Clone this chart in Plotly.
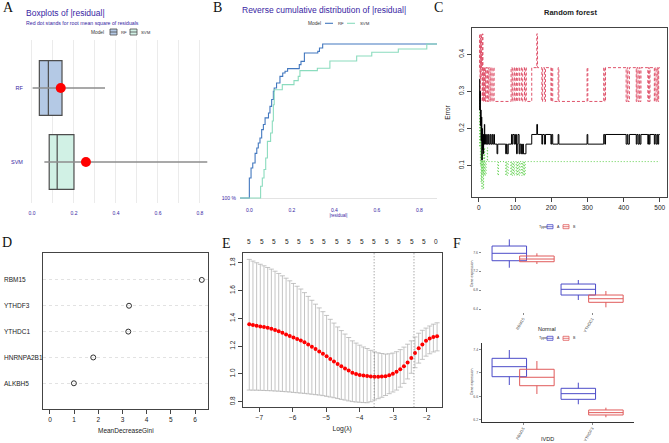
import plotly.graph_objects as go

W, H = 669, 443
def px(x): return x / W
def py(y): return 1 - y / H
def dx(a, b): return [px(a), px(b)]
def dy(top, bottom): return [py(bottom), py(top)]

DRW = "#371ea3"
SANS = "Liberation Sans, Arial, sans-serif"
SERIF = "Liberation Serif, Times New Roman, serif"
INK = "#222222"

# ---------------- Panel A: boxplots of |residual| ----------------
a_models = ["RF", "SVM"]
a_pos = [1, 0]
a_q1 = [0.035, 0.082]
a_median = [0.078, 0.120]
a_q3 = [0.143, 0.200]
a_whisk_lo = [0.003, 0.059]
a_whisk_hi = [0.348, 0.835]
a_rmse = [0.137, 0.257]
a_fill = ["#b4c9e5", "#d1f1e5"]

# ---------------- Panel B: reverse cumulative distribution ----------------
b_rf_x = [-0.044, 0.000, 0.008, 0.016, 0.027, 0.035, 0.042, 0.050, 0.058, 0.066, 0.074,
          0.090, 0.097, 0.105, 0.113, 0.117, 0.128, 0.144, 0.157, 0.168, 0.180, 0.235,
          0.243, 0.259, 0.322, 0.330, 0.345, 0.883]
b_rf_y = [1.0, 0.87, 0.805, 0.773, 0.71, 0.675, 0.643, 0.61, 0.556, 0.523, 0.48,
          0.448, 0.405, 0.36, 0.307, 0.286, 0.253, 0.21, 0.188, 0.177, 0.16, 0.134,
          0.113, 0.058, 0.048, 0.026, 0.0, 0.0]
b_svm_x = [-0.044, 0.053, 0.061, 0.069, 0.077, 0.085, 0.100, 0.108, 0.113, 0.117, 0.155,
           0.210, 0.230, 0.238, 0.320, 0.379, 0.505, 0.576, 0.701, 0.835, 0.883]
b_svm_y = [1.0, 0.924, 0.87, 0.815, 0.74, 0.632, 0.578, 0.5, 0.394, 0.297, 0.264,
           0.238, 0.21, 0.173, 0.157, 0.11, 0.078, 0.054, 0.032, 0.0, 0.0]
b_models = ["RF", "SVM"]
b_colors = ["#4378bf", "#8bdcbe"]

# ---------------- Panel C: random forest error vs trees ----------------
c_oob_trees = [1, 2, 3, 4, 5, 6, 7, 8, 9, 10, 11, 12, 13, 14, 15, 16, 18, 20, 22, 23, 26, 28,
               31, 33, 36, 38, 41, 43, 50, 52, 74, 76, 78, 81, 90, 92, 94, 98, 101, 104, 106,
               108, 111, 113, 116, 118, 120, 122, 123, 130, 146, 160, 162, 174, 176, 181, 184,
               199, 201, 204, 219, 221, 299, 301, 345, 348, 350, 407, 410, 412, 416, 435, 437,
               440, 443, 445, 448, 467, 469, 471, 473, 485, 487, 490, 493, 495, 497, 500]
c_oob_err = [0.333, 0.25, 0.30, 0.208, 0.25, 0.167, 0.231, 0.115, 0.20, 0.143, 0.184, 0.132,
             0.184, 0.158, 0.211, 0.158, 0.184, 0.158, 0.184, 0.158, 0.184, 0.158, 0.184,
             0.158, 0.184, 0.158, 0.184, 0.158, 0.132, 0.158, 0.132, 0.158, 0.132, 0.158,
             0.184, 0.158, 0.184, 0.158, 0.184, 0.132, 0.158, 0.184, 0.132, 0.158, 0.132,
             0.158, 0.132, 0.158, 0.132, 0.158, 0.184, 0.211, 0.184, 0.158, 0.184, 0.158,
             0.184, 0.158, 0.184, 0.158, 0.184, 0.158, 0.184, 0.158, 0.184, 0.158, 0.184,
             0.158, 0.184, 0.158, 0.184, 0.158, 0.184, 0.158, 0.184, 0.158, 0.184, 0.158,
             0.184, 0.158, 0.184, 0.158, 0.184, 0.158, 0.184, 0.158, 0.184, 0.184]
c_b_trees = [1, 2, 3, 4, 5, 6, 7, 8, 9, 10, 11, 12, 13, 15, 16, 18, 19, 22, 24, 26, 28, 31, 33,
             36, 39, 42, 89, 92, 94, 98, 100, 104, 106, 111, 113, 118, 121, 126, 128, 131, 146,
             160, 162, 174, 176, 181, 184, 199, 201, 204, 219, 221, 299, 301, 345, 348, 350,
             407, 410, 412, 416, 435, 437, 440, 443, 445, 448, 467, 469, 471, 473, 485, 487,
             490, 493, 495, 497, 500]
c_b_err = [0.364, 0.455, 0.273, 0.444, 0.333, 0.455, 0.364, 0.40, 0.273, 0.455, 0.364, 0.273,
           0.364, 0.273, 0.364, 0.273, 0.364, 0.273, 0.364, 0.273, 0.364, 0.273, 0.364, 0.273,
           0.364, 0.273, 0.364, 0.273, 0.364, 0.273, 0.364, 0.273, 0.364, 0.273, 0.364, 0.273,
           0.364, 0.273, 0.364, 0.273, 0.364, 0.455, 0.364, 0.273, 0.364, 0.273, 0.364, 0.273,
           0.364, 0.273, 0.364, 0.273, 0.364, 0.273, 0.364, 0.273, 0.364, 0.273, 0.364, 0.273,
           0.364, 0.273, 0.364, 0.273, 0.364, 0.273, 0.364, 0.273, 0.364, 0.273, 0.364, 0.273,
           0.364, 0.273, 0.364, 0.273, 0.364, 0.364]
c_a_trees = [1, 2, 3, 4, 5, 6, 7, 8, 9, 10, 11, 12, 13, 14, 15, 16, 18, 20, 23, 24, 52, 54, 74,
             76, 78, 81, 88, 90, 92, 94, 96, 98, 103, 105, 107, 109, 112, 114, 118, 120, 122,
             124, 126, 128, 500]
c_a_err = [0.30, 0.15, 0.25, 0.10, 0.20, 0.056, 0.15, 0.037, 0.13, 0.08, 0.148, 0.037, 0.111,
           0.074, 0.148, 0.111, 0.074, 0.111, 0.148, 0.111, 0.074, 0.111, 0.074, 0.111, 0.074,
           0.111, 0.074, 0.111, 0.074, 0.111, 0.074, 0.111, 0.074, 0.111, 0.074, 0.111, 0.074,
           0.111, 0.074, 0.111, 0.074, 0.111, 0.074, 0.111, 0.111]

# ---------------- Panel D: variable importance ----------------
d_genes = ["RBM15", "YTHDF3", "YTHDC1", "HNRNPA2B1", "ALKBH5"]
d_pos = [5, 4, 3, 2, 1]
d_gini = [6.28, 3.27, 3.24, 1.79, 0.99]

# ---------------- Panel E: LASSO cross-validation ----------------
e_loglambda = [-7.30, -7.19, -7.08, -6.97, -6.86, -6.75, -6.64, -6.53, -6.42, -6.31, -6.20,
               -6.09, -5.98, -5.87, -5.76, -5.65, -5.54, -5.43, -5.32, -5.21, -5.10, -4.99,
               -4.88, -4.77, -4.66, -4.55, -4.44, -4.33, -4.22, -4.11, -4.00, -3.89, -3.78,
               -3.67, -3.56, -3.45, -3.34, -3.23, -3.12, -3.01, -2.90, -2.79, -2.68, -2.57,
               -2.46, -2.35, -2.24, -2.13, -2.02, -1.91, -1.80, -1.69]
e_mean = [1.357, 1.352, 1.347, 1.342, 1.337, 1.332, 1.326, 1.317, 1.307, 1.296, 1.284, 1.273,
          1.262, 1.252, 1.241, 1.228, 1.212, 1.195, 1.179, 1.162, 1.145, 1.127, 1.108, 1.090,
          1.071, 1.055, 1.040, 1.025, 1.008, 0.999, 0.993, 0.988, 0.985, 0.982, 0.980, 0.980,
          0.981, 0.984, 0.990, 1.001, 1.016, 1.034, 1.056, 1.082, 1.115, 1.150, 1.184, 1.212,
          1.238, 1.255, 1.266, 1.272]
e_upper = [1.824, 1.812, 1.800, 1.789, 1.778, 1.766, 1.754, 1.739, 1.723, 1.706, 1.689, 1.670,
           1.651, 1.631, 1.611, 1.585, 1.558, 1.530, 1.502, 1.475, 1.448, 1.421, 1.393, 1.366,
           1.338, 1.312, 1.287, 1.262, 1.238, 1.222, 1.207, 1.194, 1.183, 1.170, 1.159, 1.152,
           1.147, 1.143, 1.145, 1.150, 1.160, 1.175, 1.193, 1.214, 1.238, 1.266, 1.293, 1.314,
           1.330, 1.345, 1.358, 1.368]
e_lower = [0.884, 0.883, 0.883, 0.882, 0.881, 0.880, 0.879, 0.877, 0.876, 0.874, 0.872, 0.870,
           0.867, 0.865, 0.862, 0.860, 0.857, 0.854, 0.851, 0.848, 0.844, 0.839, 0.834, 0.829,
           0.823, 0.817, 0.812, 0.806, 0.801, 0.798, 0.796, 0.794, 0.793, 0.800, 0.813, 0.822,
           0.832, 0.845, 0.858, 0.870, 0.884, 0.905, 0.932, 0.964, 1.005, 1.045, 1.078, 1.105,
           1.128, 1.145, 1.158, 1.166]
e_lambda_min = -3.57
e_lambda_1se = -2.38
e_top_pos = [-7.30, -6.93, -6.55, -6.18, -5.81, -5.43, -5.07, -4.69, -4.32, -3.94, -3.57,
             -3.20, -2.83, -2.45, -2.08, -1.72]
e_top_df = ["5", "5", "5", "5", "5", "5", "5", "5", "5", "5", "5", "5", "5", "5", "5", "0"]

# ---------------- Panel F: expression boxplots ----------------
f_genes_top = ["RBM15", "YTHDC1"]
f_genes_bot = ["RBM15", "YTHDF3"]
f_types = ["A", "B"]
f_x = {"A": [0.8, 1.8], "B": [1.2, 2.2]}
f_top_lo = {"A": [7.274, 6.591], "B": [7.352, 6.436]}
f_top_q1 = {"A": [7.422, 6.696], "B": [7.401, 6.542]}
f_top_med = {"A": [7.579, 6.817], "B": [7.458, 6.618]}
f_top_q3 = {"A": [7.733, 6.929], "B": [7.522, 6.696]}
f_top_hi = {"A": [7.875, 7.014], "B": [7.579, 6.781]}
f_bot_lo = {"A": [6.794, 6.467], "B": [6.641, 6.246]}
f_bot_q1 = {"A": [6.935, 6.551], "B": [6.782, 6.285]}
f_bot_med = {"A": [7.105, 6.647], "B": [6.925, 6.325]}
f_bot_q3 = {"A": [7.247, 6.738], "B": [7.061, 6.370]}
f_bot_hi = {"A": [7.388, 6.833], "B": [7.201, 6.409]}
f_colors = {"A": "#4b4bc8", "B": "#e05a5a"}

fig = go.Figure()

# ---- A ----
for i, m in enumerate(a_models):
    fig.add_trace(go.Scatter(x=[a_whisk_lo[i], a_whisk_hi[i]], y=[a_pos[i], a_pos[i]],
                             mode="lines", line=dict(color="#8c8c8c", width=1.3),
                             xaxis="x", yaxis="y", showlegend=False, hoverinfo="skip"))
for i, m in enumerate(a_models):
    fig.add_trace(go.Box(orientation="h", y=[a_pos[i]], q1=[a_q1[i]], median=[a_median[i]],
                         q3=[a_q3[i]], lowerfence=[a_q1[i]], upperfence=[a_q3[i]],
                         width=0.74, whiskerwidth=0, fillcolor=a_fill[i],
                         line=dict(color="#4d4d4d", width=1.2), name=m,
                         xaxis="x", yaxis="y", showlegend=False, boxpoints=False))
fig.add_trace(go.Scatter(x=a_rmse, y=a_pos, mode="markers",
                         marker=dict(color="#ff0000", size=10), xaxis="x", yaxis="y",
                         showlegend=False, hoverinfo="skip"))

# ---- B ----
fig.add_trace(go.Scatter(x=b_rf_x, y=b_rf_y, mode="lines", line_shape="hv",
                         line=dict(color=b_colors[0], width=1.1), name="RF",
                         xaxis="x2", yaxis="y2", showlegend=False))
fig.add_trace(go.Scatter(x=b_svm_x, y=b_svm_y, mode="lines", line_shape="hv",
                         line=dict(color=b_colors[1], width=1.1), name="SVM",
                         xaxis="x2", yaxis="y2", showlegend=False))

# ---- C ----
fig.add_trace(go.Scatter(x=c_b_trees, y=c_b_err, mode="lines", line_shape="hv",
                         line=dict(color="#df536b", width=1, dash="3px,2px"),
                         xaxis="x3", yaxis="y3", showlegend=False))
fig.add_trace(go.Scatter(x=c_a_trees, y=c_a_err, mode="lines", line_shape="hv",
                         line=dict(color="#61d04f", width=1, dash="1px,2px"),
                         xaxis="x3", yaxis="y3", showlegend=False))
fig.add_trace(go.Scatter(x=c_oob_trees, y=c_oob_err, mode="lines", line_shape="hv",
                         line=dict(color="#000000", width=1),
                         xaxis="x3", yaxis="y3", showlegend=False))

# ---- D ----
fig.add_trace(go.Scatter(x=d_gini, y=d_pos, mode="markers",
                         marker=dict(symbol="circle-open", size=5, color="#000",
                                     line=dict(width=0.8)),
                         xaxis="x4", yaxis="y4", showlegend=False))

# ---- E ----
fig.add_trace(go.Scatter(
    x=e_loglambda, y=e_mean, mode="markers",
    marker=dict(color="#ff0000", size=4),
    error_y=dict(type="data", symmetric=False,
                 array=[u - m for u, m in zip(e_upper, e_mean)],
                 arrayminus=[m - l for m, l in zip(e_mean, e_lower)],
                 color="#b5b5b5", thickness=0.8, width=2.5),
    xaxis="x5", yaxis="y5", showlegend=False))

# ---- F ----
for t in f_types:
    fig.add_trace(go.Box(x=f_x[t], q1=f_top_q1[t], median=f_top_med[t], q3=f_top_q3[t],
                         lowerfence=f_top_lo[t], upperfence=f_top_hi[t], width=0.5,
                         whiskerwidth=0, fillcolor="rgba(255,255,255,0)",
                         line=dict(color=f_colors[t], width=1), name=t,
                         xaxis="x7", yaxis="y7", showlegend=False, boxpoints=False))
for t in f_types:
    fig.add_trace(go.Box(x=f_x[t], q1=f_bot_q1[t], median=f_bot_med[t], q3=f_bot_q3[t],
                         lowerfence=f_bot_lo[t], upperfence=f_bot_hi[t], width=0.5,
                         whiskerwidth=0, fillcolor="rgba(255,255,255,0)",
                         line=dict(color=f_colors[t], width=1), name=t,
                         xaxis="x8", yaxis="y8", showlegend=False, boxpoints=False))

frame = dict(showline=True, mirror=True, linecolor="#444", linewidth=1, ticks="outside",
             ticklen=4, tickcolor="#444", showgrid=False, zeroline=False,
             tickfont=dict(size=6.5, color=INK))
hidden_tick = dict(ticks="outside", ticklen=5, tickcolor="rgba(0,0,0,0)")

shapes = [
    dict(type="line", xref="x5", yref="y5 domain", x0=e_lambda_min, x1=e_lambda_min,
         y0=0, y1=1, line=dict(color="#666", width=0.8, dash="1px,2px")),
    dict(type="line", xref="x5", yref="y5 domain", x0=e_lambda_1se, x1=e_lambda_1se,
         y0=0, y1=1, line=dict(color="#666", width=0.8, dash="1px,2px")),
]

annotations = []
def note(text, x, y, size, color=INK, anchor="left", family=None, xref="paper", yref="paper",
         angle=0):
    f = dict(size=size, color=color)
    if family:
        f["family"] = family
    annotations.append(dict(text=text, x=px(x) if xref == "paper" else x,
                            y=py(y) if yref == "paper" else y, xref=xref, yref=yref,
                            showarrow=False, xanchor=anchor, yanchor="middle", font=f,
                            textangle=angle))

def key_box(x0, x1, y0, y1, fill, line):
    shapes.append(dict(type="rect", xref="paper", yref="paper", x0=px(x0), x1=px(x1),
                       y0=py(y1), y1=py(y0), fillcolor=fill, line=dict(color=line, width=0.8)))
    ym = (y0 + y1) / 2
    shapes.append(dict(type="line", xref="paper", yref="paper", x0=px(x0), x1=px(x1),
                       y0=py(ym), y1=py(ym), line=dict(color=line, width=0.8)))

def key_line(x0, x1, y, color):
    shapes.append(dict(type="line", xref="paper", yref="paper", x0=px(x0), x1=px(x1),
                       y0=py(y), y1=py(y), line=dict(color=color, width=1.1)))

for lab, (x, y) in {"A": (8, 8), "B": (217, 8), "C": (438, 8), "D": (7, 242),
                    "E": (226, 243), "F": (457, 243)}.items():
    note(lab, x, y, 14, color="#111", anchor="center", family=SERIF)

note("Boxplots of |residual|", 24, 13, 8.5, DRW)
note("Red dot stands for root mean square of residuals", 24, 22.5, 5.2, DRW)
note("Reverse cumulative distribution of |residual|", 240, 10, 8.5, DRW)
note("<b>Random forest</b>", 570, 12, 7.5, INK, anchor="center")

# legend A (manual)
note("Model", 89, 32, 4.8, "#333")
for i, m in enumerate(a_models):
    kx = [110, 130][i]
    key_box(kx, kx + 7, 29, 35, a_fill[i], "#4d4d4d")
    note(m, kx + 8.5, 32, 4.3, "#333")
# legend B (manual)
note("Model", 306, 23.3, 4.8, "#333")
for i, m in enumerate(b_models):
    kx = [325, 347][i]
    key_line(kx, kx + 8, 23.3, b_colors[i])
    note(m, kx + 11, 23.3, 4.3, "#333")
# legends F (manual)
for ly in (226.7, 338.3):
    note("Type", 537, ly, 3.8, "#333")
    for i, t in enumerate(f_types):
        kx = [547, 563][i]
        key_box(kx, kx + 6, ly - 2, ly + 2, "white", f_colors[t])
        note(t, kx + 7.5, ly, 3.6, "#333")
note("Normal", 547, 328.5, 5.5, INK, anchor="center")
note("IVDD", 547, 439, 5.5, INK, anchor="center")
note("Gene expression", 472, 274, 3.5, "#333", anchor="center", angle=-90)
note("Gene expression", 472, 382, 3.5, "#333", anchor="center", angle=-90)

for g, p in zip(d_genes, d_pos):
    note(g, 2, p, 6.5, INK, yref="y4")
for pos_, lab in zip(e_top_pos, e_top_df):
    note(lab, pos_, 241, 6.5, INK, anchor="center", xref="x5")

fig.update_layout(
    width=W, height=H, margin=dict(l=0, r=0, t=0, b=0), template="none",
    paper_bgcolor="white", plot_bgcolor="white", font=dict(family=SANS, color=INK),
    showlegend=False,
    # A
    xaxis=dict(domain=dx(28, 210), anchor="y", range=[-0.019, 0.848],
               tickvals=[0, 0.2, 0.4, 0.6, 0.8], ticktext=["0.0", "0.2", "0.4", "0.6", "0.8"],
               showgrid=True, gridcolor="#ebebeb", gridwidth=1, zeroline=False, showline=False,
               minor=dict(tickvals=[0.1, 0.3, 0.5, 0.7], showgrid=True, gridcolor="#ebebeb"),
               tickfont=dict(size=5, color=DRW), **hidden_tick),
    yaxis=dict(domain=dy(40, 203), anchor="x", range=[-0.554, 1.649], tickvals=a_pos,
               ticktext=a_models, showgrid=False, zeroline=False, showline=False,
               tickfont=dict(size=5.5, color=DRW), ticks="outside", ticklen=3,
               tickcolor="rgba(0,0,0,0)"),
    # B
    xaxis2=dict(domain=dx(240, 437), anchor="y2", range=[-0.044, 0.883],
                tickvals=[0, 0.2, 0.4, 0.6, 0.8], ticktext=["0.0", "0.2", "0.4", "0.6", "0.8"],
                showgrid=False, zeroline=False, showline=False,
                tickfont=dict(size=5, color=DRW),
                title=dict(text="|residual|", font=dict(size=4.5, color=DRW), standoff=1),
                **hidden_tick),
    yaxis2=dict(domain=dy(40, 200), anchor="x2", range=[1.013, -0.026], tickvals=[1.0],
                ticktext=["100 %"], showgrid=True, gridcolor="#e3e3e3", zeroline=False,
                showline=False, tickfont=dict(size=5, color=DRW), ticks="outside", ticklen=2,
                tickcolor="rgba(0,0,0,0)"),
    # C
    xaxis3=dict(domain=dx(471.7, 667), anchor="y3", range=[-20, 520],
                tickvals=[0, 100, 200, 300, 400, 500], **frame),
    yaxis3=dict(domain=dy(28.3, 196.7), anchor="x3", range=[0.0164, 0.470],
                tickvals=[0.1, 0.2, 0.3, 0.4], tickangle=-90,
                title=dict(text="Error", font=dict(size=6.5), standoff=6), **frame),
    # D
    xaxis4=dict(domain=dx(43.3, 208.3), anchor="y4", range=[-0.276, 6.55],
                tickvals=[0, 1, 2, 3, 4, 5, 6],
                title=dict(text="MeanDecreaseGini", font=dict(size=6.5), standoff=6), **frame),
    yaxis4=dict(domain=dy(253.3, 409.3), anchor="x4", range=[-0.007, 6.03],
                tickvals=d_pos, showticklabels=False, showline=True, mirror=True,
                linecolor="#444", linewidth=1, ticks="", zeroline=False, showgrid=True,
                gridcolor="#e2e2e2", griddash="dot", gridwidth=0.8),
    # E
    xaxis5=dict(domain=dx(242.7, 441.7), anchor="y5", range=[-7.496, -1.552],
                tickvals=[-7, -6, -5, -4, -3, -2],
                title=dict(text="Log(λ)", font=dict(size=6.8), standoff=6), **frame),
    yaxis5=dict(domain=dy(253.3, 407.3), anchor="x5", range=[0.76, 1.868],
                tickvals=[0.8, 1.0, 1.2, 1.4, 1.6, 1.8],
                ticktext=["0.8", "1.0", "1.2", "1.4", "1.6", "1.8"], tickangle=-90, **frame),
    # F top
    xaxis7=dict(domain=dx(481.7, 633.5), anchor="y7", range=[0.4, 2.6], tickvals=[1, 2],
                ticktext=f_genes_top, tickangle=-60, showgrid=False, zeroline=False,
                showline=False, ticks="outside", ticklen=2, tickcolor="#888",
                tickfont=dict(size=4, color="#444")),
    yaxis7=dict(domain=dy(237, 312), anchor="x7", range=[6.337, 7.924],
                tickvals=[6.4, 6.8, 7.2, 7.6], showgrid=False, zeroline=False, showline=False,
                ticks="outside", ticklen=2, tickcolor="#888",
                tickfont=dict(size=3.5, color="#555")),
    # F bottom
    xaxis8=dict(domain=dx(481.7, 633.5), anchor="y8", range=[0.4, 2.6], tickvals=[1, 2],
                ticktext=f_genes_bot, tickangle=-60, showgrid=False, zeroline=False,
                showline=True, linecolor="#333", linewidth=0.8, ticks="outside", ticklen=2,
                tickcolor="#888", tickfont=dict(size=4, color="#444")),
    yaxis8=dict(domain=dy(343, 421.7), anchor="x8", range=[6.171, 7.507],
                tickvals=[6.2, 6.6, 7.0, 7.4], showgrid=False, zeroline=False, showline=True,
                linecolor="#333", linewidth=0.8, ticks="outside", ticklen=2, tickcolor="#888",
                tickfont=dict(size=3.5, color="#555")),
    shapes=shapes, annotations=annotations,
)

fig.write_html("out.html", config={"displayModeBar": False},
               post_script="document.body.style.margin='0px';")
